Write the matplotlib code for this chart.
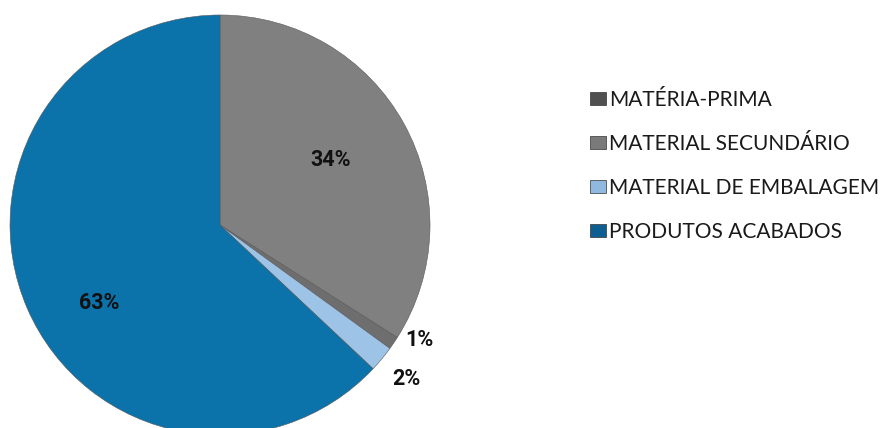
import matplotlib.pyplot as plt
import numpy as np
from matplotlib.patches import Patch

categorias = ['MATÉRIA-PRIMA', 'MATERIAL SECUNDÁRIO', 'MATERIAL DE EMBALAGEM', 'PRODUTOS ACABADOS']
valores = [34, 1, 2, 63]
rotulos = ['34%', '1%', '2%', '63%']
cores = ['#808080', '#6e6e6e', '#9dc3e6', '#0b72aa']
cores_legenda = ['#505050', '#7a7a7a', '#8fb9de', '#0d5f92']

plt.rcParams['font.family'] = ['Lato', 'DejaVu Sans']

fig = plt.figure(figsize=(8.84, 4.28), dpi=100)
ax = fig.add_axes([10 / 884, -7 / 428, 420 / 884, 420 / 428])

wedges, _ = ax.pie(valores, colors=cores, startangle=90, counterclock=False,
                   radius=1, wedgeprops=dict(edgecolor='#5a5a5a', linewidth=0.4))

# posicao dos rotulos: distancia do centro para cada fatia
dist = [0.60, 1.10, 1.15, 0.66]
desloc = [(0, 0.02), (0.04, 0.07), (0, 0), (0.03, -0.11)]
for w, txt, d, (dx, dy) in zip(wedges, rotulos, dist, desloc):
    ang = np.deg2rad((w.theta1 + w.theta2) / 2)
    ax.text(d * np.cos(ang) + dx, d * np.sin(ang) + dy, txt, ha='center', va='center',
            fontsize=15.5, fontweight='bold', family=['Roboto', 'DejaVu Sans'],
            color='#111111')

ax.set_xlim(-1, 1)
ax.set_ylim(-1, 1)
ax.set_aspect('equal')
ax.axis('off')

handles = [Patch(facecolor=c, edgecolor='#333333', linewidth=0.5) for c in cores_legenda]
fig.legend(handles, categorias, loc='upper left', bbox_to_anchor=(590 / 884, 1 - 90 / 428),
           frameon=False, fontsize=15, handlelength=0.75, handleheight=0.6,
           handletextpad=0.15, labelspacing=1.15, borderpad=0, borderaxespad=0,
           labelcolor='#1a1a1a')

fig.savefig('out.png', dpi=100)
